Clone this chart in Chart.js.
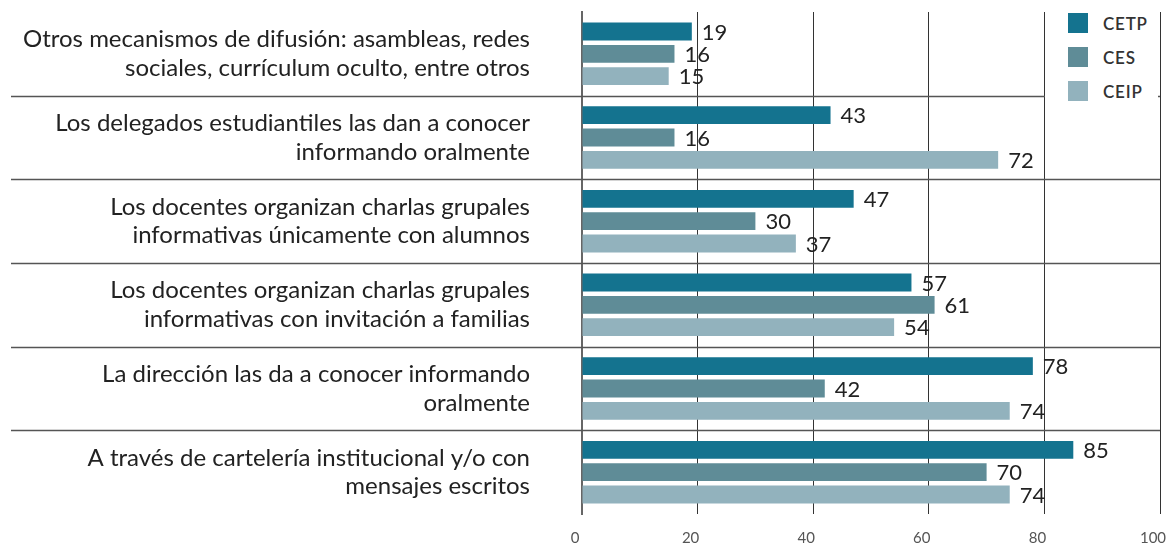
<!DOCTYPE html>
<html lang="es">
<head>
<meta charset="utf-8">
<title>Mecanismos de difusión</title>
<script src="https://cdn.jsdelivr.net/npm/chart.js@4.4.1/dist/chart.umd.min.js"></script>
<style>
  body { margin: 0; background: #fff; }
  .contenedor { position: relative; width: 1175px; height: 547px; }
  #leyenda {
    position: absolute; left: 1045px; top: 0; width: 113px; height: 107px;
    background: #fff; font-family: Lato, "Noto Sans", sans-serif;
  }
  .item { position: absolute; left: 23px; height: 20px; display: flex; align-items: center; }
  .item span.cuadro { width: 20px; height: 20px; margin-right: 15px; }
  .item span.texto { font-size: 17px; font-weight: 600; color: #333; letter-spacing: 0.8px; }
</style>
</head>
<body>
<div class="contenedor">
  <canvas id="grafico" width="1175" height="547"></canvas>
  <div id="leyenda"></div>
</div>
<script>
// Datos del gráfico
const categorias = [
  ['Otros mecanismos de difusión: asambleas, redes', 'sociales, currículum oculto, entre otros'],
  ['Los delegados estudiantiles las dan a conocer', 'informando oralmente'],
  ['Los docentes organizan charlas grupales', 'informativas únicamente con alumnos'],
  ['Los docentes organizan charlas grupales', 'informativas con invitación a familias'],
  ['La dirección las da a conocer informando', 'oralmente'],
  ['A través de cartelería institucional y/o con', 'mensajes escritos']
];
const series = ['CETP', 'CES', 'CEIP'];
const valoresCETP = [19, 43, 47, 57, 78, 85];
const valoresCES = [16, 16, 30, 61, 42, 70];
const valoresCEIP = [15, 72, 37, 54, 74, 74];
const ticksX = [0, 20, 40, 60, 80, 100];

const colores = ['#14738f', '#5f8c97', '#92b2bd'];
const fuente = 'Lato, "Noto Sans", sans-serif';

// Leyenda en HTML (arriba a la derecha)
const leyenda = document.getElementById('leyenda');
series.forEach((nombre, i) => {
  const item = document.createElement('div');
  item.className = 'item';
  item.style.top = (13 + i * 34) + 'px';
  item.innerHTML = `<span class="cuadro" style="background:${colores[i]}"></span><span class="texto">${nombre}</span>`;
  leyenda.appendChild(item);
});

// Líneas separadoras entre categorías
const separadores = {
  id: 'separadores',
  beforeDatasetsDraw(chart) {
    const { ctx, chartArea, scales } = chart;
    const y = scales.y;
    ctx.save();
    ctx.strokeStyle = '#555';
    ctx.lineWidth = 1.5;
    for (let i = 0; i < categorias.length - 1; i++) {
      const py = Math.round((y.getPixelForValue(i) + y.getPixelForValue(i + 1)) / 2) + 0.5;
      ctx.beginPath();
      ctx.moveTo(11, py);
      ctx.lineTo(chartArea.right, py);
      ctx.stroke();
    }
    ctx.restore();
  }
};

// Etiquetas de valor al final de cada barra
const etiquetas = {
  id: 'etiquetas',
  afterDatasetsDraw(chart) {
    const { ctx } = chart;
    ctx.save();
    ctx.font = '22px ' + fuente;
    ctx.fillStyle = '#222';
    ctx.textAlign = 'left';
    ctx.textBaseline = 'middle';
    chart.data.datasets.forEach((ds, i) => {
      chart.getDatasetMeta(i).data.forEach((barra, j) => {
        ctx.fillText(ds.data[j], barra.x + 10, barra.y + 1);
      });
    });
    ctx.restore();
  }
};

new Chart(document.getElementById('grafico'), {
  type: 'bar',
  data: {
    labels: categorias,
    datasets: [
      { label: series[0], data: valoresCETP, backgroundColor: colores[0] },
      { label: series[1], data: valoresCES, backgroundColor: colores[1] },
      { label: series[2], data: valoresCEIP, backgroundColor: colores[2] }
    ]
  },
  options: {
    indexAxis: 'y',
    responsive: false,
    animation: false,
    devicePixelRatio: 1,
    categoryPercentage: 0.8,
    barPercentage: 0.8,
    layout: { padding: { top: 12, right: 15, left: 0, bottom: 0 } },
    plugins: {
      legend: { display: false },
      tooltip: { enabled: false }
    },
    scales: {
      x: {
        min: 0,
        max: 100,
        afterBuildTicks: (scale) => { scale.ticks = ticksX.map(v => ({ value: v })); },
        afterFit: (scale) => { scale.height = 33; scale.paddingLeft = 0; scale.paddingRight = 0; },
        grid: { color: '#333', lineWidth: 1, drawTicks: false },
        border: { display: false },
        ticks: { font: { family: fuente, size: 15 }, color: '#555', padding: 15, labelOffset: -7 }
      },
      y: {
        afterFit: (scale) => { scale.width = 582; scale.paddingTop = 0; scale.paddingBottom = 0; },
        grid: { display: false, drawTicks: false },
        border: { display: true, color: '#666', width: 2 },
        ticks: { font: { family: fuente, size: 24 }, color: '#222', padding: 52, lineHeight: 1.12 }
      }
    }
  },
  plugins: [separadores, etiquetas]
});
</script>
</body>
</html>
